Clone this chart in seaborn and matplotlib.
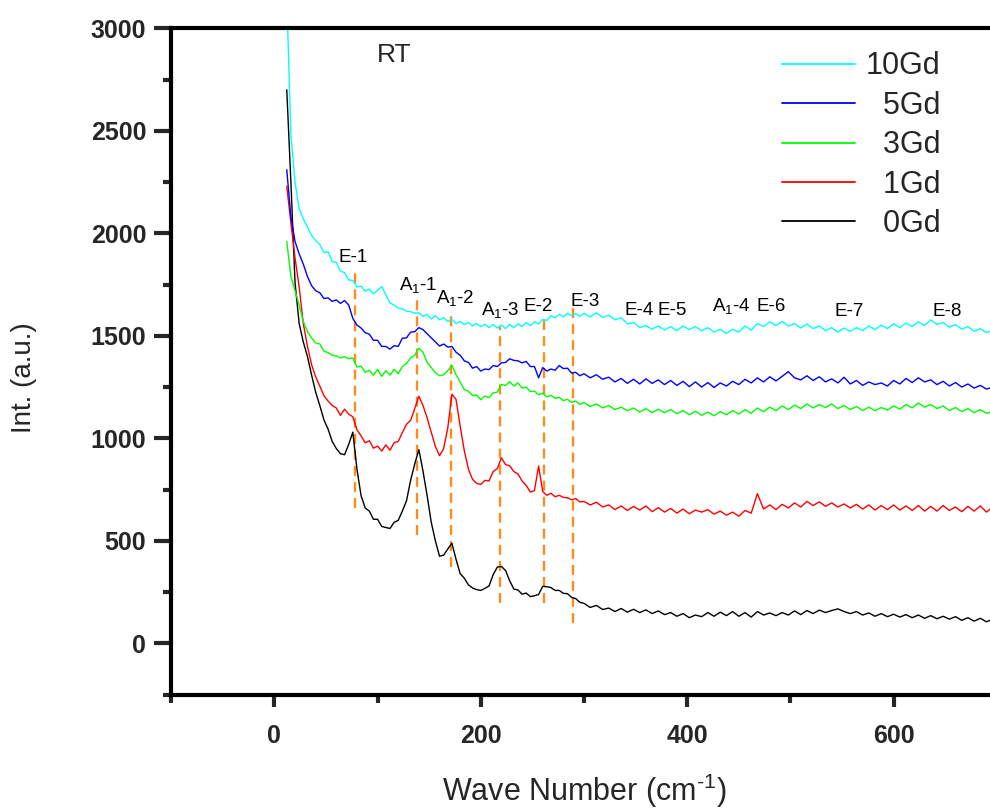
import numpy as np
import pandas as pd
import matplotlib
matplotlib.use("Agg")
import matplotlib.pyplot as plt
from matplotlib.lines import Line2D
from matplotlib.ticker import FixedLocator
import seaborn as sns

# ---------------- data ----------------
wn_low = np.arange(12, 300, 4)      # 72 samples
wn_high = np.arange(300, 700, 6)    # 67 samples

gd0_low = [2700, 2250, 1760, 1560, 1470, 1400, 1310, 1225,
           1160, 1090, 1045, 985, 950, 925, 920, 970,
           1030, 850, 720, 660, 645, 605, 605, 570,
           565, 560, 590, 600, 645, 695, 795, 875,
           945, 840, 720, 590, 500, 425, 430, 460,
           488, 410, 340, 318, 285, 270, 262, 258,
           268, 280, 335, 372, 375, 355, 305, 265,
           260, 240, 245, 228, 232, 238, 278, 276,
           272, 258, 258, 244, 242, 224, 218, 200]
gd0_high = [195, 175, 185, 165, 172, 155, 170, 152,
            166, 150, 163, 145, 158, 140, 150, 132,
            145, 125, 138, 130, 150, 132, 152, 135,
            155, 132, 150, 128, 155, 138, 148, 135,
            150, 138, 158, 140, 160, 145, 162, 150,
            160, 168, 155, 145, 155, 138, 148, 132,
            145, 130, 142, 128, 140, 125, 138, 122,
            135, 120, 132, 118, 130, 112, 125, 108,
            122, 105, 118]

gd1_low = [2230, 2050, 1880, 1740, 1560, 1450, 1360, 1300,
           1255, 1208, 1182, 1160, 1148, 1112, 1142, 1118,
           1105, 1042, 1012, 978, 988, 952, 962, 938,
           968, 942, 978, 985, 1028, 1068, 1088, 1145,
           1205, 1160, 1100, 1030, 960, 915, 950, 1050,
           1215, 1190, 1060, 940, 850, 800, 780, 775,
           795, 792, 838, 852, 905, 872, 866, 838,
           826, 792, 770, 738, 745, 865, 740, 722,
           732, 715, 722, 712, 710, 700, 706, 690]
gd1_high = [692, 675, 688, 665, 675, 652, 670, 648,
            668, 650, 670, 642, 662, 640, 658, 635,
            655, 632, 650, 640, 652, 630, 645, 625,
            640, 620, 648, 635, 730, 655, 675, 652,
            678, 660, 685, 665, 692, 672, 690, 668,
            685, 665, 680, 660, 678, 655, 675, 650,
            672, 652, 675, 650, 670, 648, 672, 645,
            668, 645, 672, 648, 665, 642, 668, 645,
            670, 640, 665]

gd3_low = [1960, 1790, 1720, 1650, 1570, 1520, 1490, 1465,
           1460, 1425, 1418, 1405, 1402, 1392, 1398, 1388,
           1392, 1348, 1352, 1322, 1332, 1308, 1336, 1302,
           1330, 1308, 1336, 1315, 1350, 1365, 1392, 1405,
           1440, 1420, 1370, 1345, 1320, 1305, 1310, 1330,
           1355, 1310, 1275, 1238, 1230, 1208, 1212, 1188,
           1206, 1198, 1222, 1225, 1262, 1258, 1276, 1255,
           1270, 1245, 1250, 1228, 1230, 1212, 1220, 1202,
           1210, 1195, 1200, 1184, 1190, 1175, 1182, 1165]
gd3_high = [1175, 1155, 1168, 1148, 1160, 1140, 1152, 1135,
            1148, 1128, 1145, 1125, 1142, 1125, 1140, 1120,
            1135, 1115, 1132, 1112, 1128, 1110, 1130, 1115,
            1135, 1118, 1140, 1122, 1148, 1130, 1152, 1135,
            1158, 1140, 1162, 1145, 1168, 1148, 1165, 1150,
            1168, 1145, 1160, 1140, 1155, 1135, 1152, 1135,
            1150, 1138, 1158, 1142, 1165, 1148, 1172, 1152,
            1165, 1145, 1158, 1135, 1150, 1130, 1145, 1125,
            1140, 1122, 1132]

gd5_low = [2310, 2080, 1960, 1900, 1850, 1790, 1745, 1720,
           1710, 1682, 1685, 1668, 1675, 1658, 1672, 1650,
           1585, 1552, 1538, 1515, 1508, 1478, 1478, 1448,
           1448, 1435, 1452, 1448, 1488, 1490, 1518, 1520,
           1540, 1530, 1510, 1490, 1470, 1450, 1460, 1445,
           1448, 1420, 1405, 1378, 1370, 1342, 1350, 1328,
           1338, 1335, 1355, 1350, 1368, 1370, 1388, 1380,
           1378, 1368, 1375, 1350, 1350, 1295, 1345, 1328,
           1338, 1332, 1355, 1340, 1342, 1318, 1322, 1305]
gd5_high = [1315, 1295, 1310, 1288, 1298, 1275, 1292, 1268,
            1288, 1265, 1290, 1268, 1285, 1262, 1282, 1258,
            1278, 1252, 1275, 1250, 1272, 1248, 1270, 1255,
            1278, 1262, 1288, 1270, 1295, 1275, 1300, 1280,
            1302, 1325, 1295, 1285, 1305, 1282, 1300, 1275,
            1290, 1270, 1298, 1265, 1282, 1258, 1275, 1262,
            1270, 1255, 1282, 1265, 1292, 1272, 1295, 1275,
            1285, 1262, 1278, 1255, 1272, 1250, 1265, 1245,
            1258, 1240, 1250]

gd10_low = [3150, 2480, 2250, 2120, 2070, 2030, 1990, 1965,
            1945, 1905, 1910, 1862, 1858, 1815, 1808, 1772,
            1770, 1738, 1742, 1718, 1728, 1705, 1722, 1740,
            1700, 1660, 1650, 1635, 1632, 1620, 1618, 1610,
            1612, 1595, 1605, 1582, 1598, 1578, 1588, 1570,
            1580, 1560, 1570, 1555, 1565, 1548, 1560, 1545,
            1556, 1540, 1555, 1538, 1552, 1535, 1556, 1540,
            1558, 1545, 1565, 1550, 1568, 1558, 1580, 1575,
            1598, 1588, 1605, 1592, 1610, 1598, 1608, 1595]
gd10_high = [1610, 1592, 1612, 1590, 1600, 1578, 1588, 1558,
             1565, 1540, 1550, 1532, 1548, 1528, 1545, 1525,
             1548, 1530, 1545, 1525, 1540, 1518, 1532, 1512,
             1532, 1518, 1548, 1528, 1560, 1545, 1568, 1550,
             1570, 1548, 1560, 1538, 1558, 1535, 1548, 1525,
             1540, 1518, 1538, 1522, 1540, 1525, 1548, 1530,
             1552, 1535, 1558, 1540, 1562, 1545, 1568, 1550,
             1578, 1555, 1565, 1542, 1555, 1532, 1545, 1522,
             1535, 1515, 1528]

sample_names = ["10Gd", "5Gd", "3Gd", "1Gd", "0Gd"]
sample_values = {
    "10Gd": gd10_low + gd10_high,
    "5Gd": gd5_low + gd5_high,
    "3Gd": gd3_low + gd3_high,
    "1Gd": gd1_low + gd1_high,
    "0Gd": gd0_low + gd0_high,
}
sample_colors = ["#00FFFF", "#0000FF", "#00FF00", "#FF0000", "#000000"]
legend_labels = ["10Gd", "  5Gd", "  3Gd", "  1Gd", "  0Gd"]

# Raman mode markers
mode_x = [78, 138.5, 171, 218.5, 261, 289]
mode_ymin = [660, 528, 373, 197, 197, 99]
mode_ymax = [1813, 1685, 1611, 1544, 1577, 1650]

mode_labels = ["E-1", "A$_1$-1", "A$_1$-2", "A$_1$-3", "E-2", "E-3",
               "E-4", "E-5", "A$_1$-4", "E-6", "E-7", "E-8"]
mode_label_x = [62.6, 121, 156.6, 200.6, 241.5, 286.5, 339, 371, 424, 467, 543, 638]
mode_label_y = [1860, 1723, 1662, 1601, 1621, 1646, 1601, 1601, 1621, 1621, 1596, 1596]

x_major = [0, 200, 400, 600]
x_minor = [-100, 100, 300, 500]
y_major = [0, 500, 1000, 1500, 2000, 2500, 3000]
y_minor = [-250, 250, 750, 1250, 1750, 2250, 2750]

# ---------------- build long table ----------------
wave_number = np.concatenate([wn_low, wn_high])
frames = []
for name in sample_names[::-1]:
    frames.append(pd.DataFrame({"wn": wave_number,
                                "intensity": sample_values[name],
                                "sample": name}))
df = pd.concat(frames, ignore_index=True)

# ---------------- style ----------------
sns.set_style("white")
plt.rcParams["font.family"] = ["Liberation Sans", "DejaVu Sans"]
plt.rcParams["mathtext.fontset"] = "custom"
plt.rcParams["mathtext.rm"] = "Liberation Sans"
plt.rcParams["mathtext.it"] = "Liberation Sans:italic"
plt.rcParams["mathtext.bf"] = "Liberation Sans:bold"
plt.rcParams["mathtext.default"] = "regular"

fig = plt.figure(figsize=(9.9, 8.1), dpi=100)
ax = fig.add_axes([0.1729, 0.1425, 0.834, 0.8226])

palette = dict(zip(sample_names, sample_colors))
sns.lineplot(data=df, x="wn", y="intensity", hue="sample",
             hue_order=sample_names[::-1], palette=palette,
             estimator=None, sort=True, linewidth=1.0, legend=False, ax=ax)

ax.vlines(mode_x, mode_ymin, mode_ymax, colors="#FF8C1A", linewidth=1.7,
          linestyles=(0, (4.2, 2.6)), zorder=1)

for lab, lx, ly in zip(mode_labels, mode_label_x, mode_label_y):
    ax.text(lx, ly, lab, fontsize=13.5, ha="left", va="baseline", color="black")

ax.text(99, 2870, "RT", fontsize=19, ha="left", va="center")

ax.set_xlim(-100, 700)
ax.set_ylim(-250, 3000)

ax.xaxis.set_major_locator(FixedLocator(x_major))
ax.xaxis.set_minor_locator(FixedLocator(x_minor))
ax.yaxis.set_major_locator(FixedLocator(y_major))
ax.yaxis.set_minor_locator(FixedLocator(y_minor))
ax.set_xticklabels([str(v) for v in x_major])
ax.set_yticklabels([str(v) for v in y_major])

for sp in ["left", "bottom", "top", "right"]:
    ax.spines[sp].set_linewidth(3)
    ax.spines[sp].set_color("black")

ax.tick_params(axis="y", which="major", direction="out", length=12, width=3,
               pad=6, labelsize=18, left=True)
ax.tick_params(axis="y", which="minor", direction="out", length=6, width=3, left=True)
ax.tick_params(axis="x", which="major", direction="out", length=8.5, width=3,
               pad=13, labelsize=18, bottom=True)
ax.tick_params(axis="x", which="minor", direction="out", length=6, width=3, bottom=True)
for t in ax.get_xticklabels() + ax.get_yticklabels():
    t.set_fontweight("bold")

ax.set_xlabel("Wave Number (cm$^{\\text{-}1}$)", fontsize=22)
ax.set_ylabel("Int. (a.u.)", fontsize=20)
ax.xaxis.set_label_coords(0.5, -0.116)
ax.yaxis.set_label_coords(-0.163, 0.476)

handles = [Line2D([0], [0], color=c, linewidth=1.3) for c in sample_colors]
ax.legend(handles, legend_labels, loc="upper left", bbox_to_anchor=(0.740, 0.9655),
          frameon=False, fontsize=22, handlelength=2.4, handletextpad=0.33,
          labelspacing=0.31, borderaxespad=0, borderpad=0)

fig.savefig("out.png", dpi=100)
